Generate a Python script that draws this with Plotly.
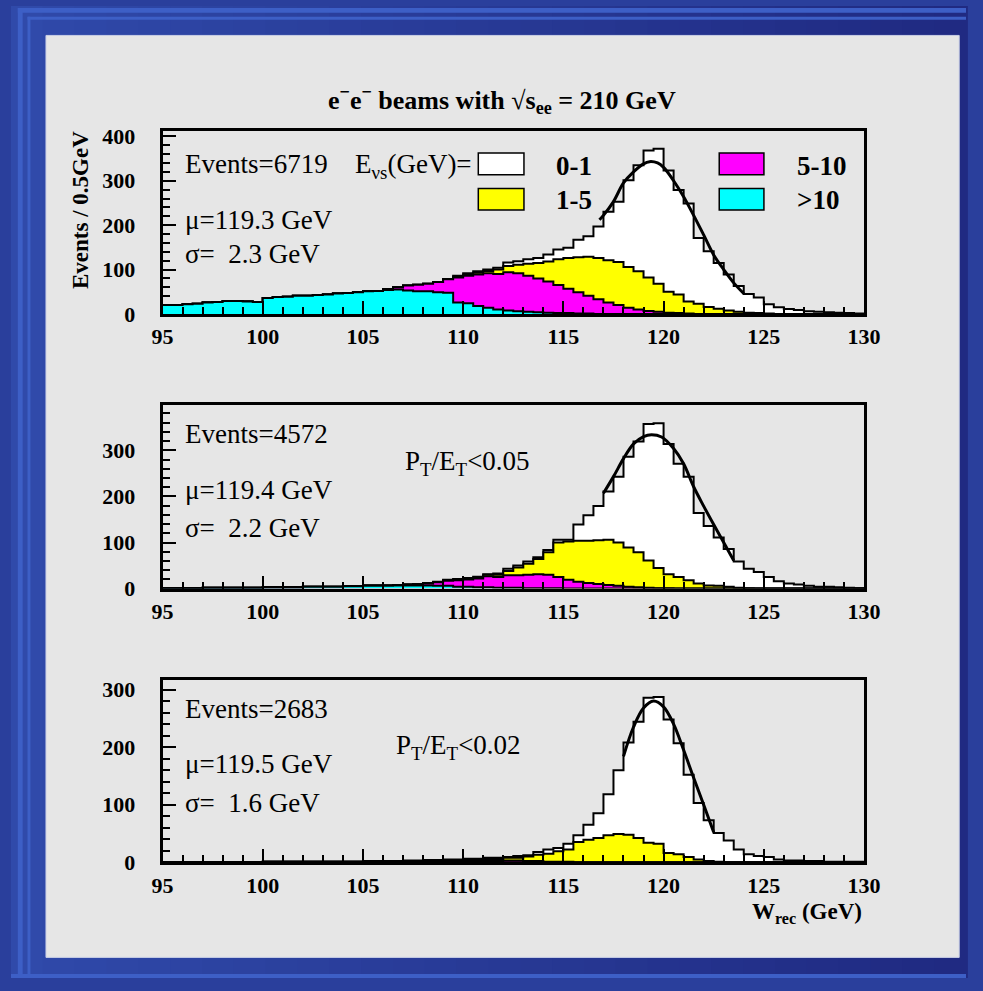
import plotly.graph_objects as go
import numpy as np

W, H = 983, 991
BIN_START, BIN_WIDTH, N_BINS = 95.0, 0.5, 70

# ---------------- data (events per 0.5 GeV bin, bins start at 95.0) ----------------
top_cyan = [20,20,22,23,26,27,29,29,28,27, 36,38,39,41,41,43,44,46,47,49,
            51,52,54,55,53,51,51,49,48,26, 24,18,14,10,8,6,5,4,3,2, 2,1,1] + [0]*27
top_magenta = [0]*22 + [2,5,11,15,17,23,30,56,62,71, 78,80,86,86,81,76,70,63,55,48,
                        40,33,26,20,14,10,7,5,3,2, 1] + [0]*17
top_yellow = [0]*28 + [1,2,3,4,5,10,14,19,27,35, 45,58,69,79,88,93,95,97,92,86,
                       75,63,47,42,27,23,16,12,8,5, 3,2,1] + [0]*9
top_white = [0]*29 + [2,3,3,3,4,8,8,10,11,16, 22,23,39,46,71,109,136,195,239,286,
                      304,273,235,221,148,125,103,81,58,42, 35,21,15,11,9,6,5,4,3,2, 1]

mid_cyan = [1,1,1,1,2,2,2,2,2,2, 3,3,3,3,4,4,4,4,5,5, 6,6,6,7,7,7,7,6,6,4,
            4,3,3,2,2,2,1,1,1,1] + [0]*30
mid_magenta = [0]*20 + [1,1,1,1,2,3,4,8,11,14, 16,19,24,23,27,27,29,30,29,24,
                        19,15,12,10,8,6,4,3,2,1, 1] + [0]*19
mid_yellow = [0]*28 + [1,2,2,2,3,5,9,17,24,33, 49,75,83,89,92,95,98,94,85,76,
                       59,44,30,25,18,11,7,6,4,2, 1] + [0]*11
mid_white = [0]*26 + [1,1,1,1,1,2,1,3,5,4, 5,4,5,6,4,35,55,74,105,143,
                      197,240,296,314,283,246,225,153,129,105, 82,57,42,36,25,16,11,9,6,4,
                      4,3,2,1]

bot_cyan = [0]*10 + [1]*24 + [0]*36
bot_magenta = [0]*24 + [1,1,1,1,2,2,2,2,3,3,3,3,2,2,1,1,1] + [0]*29
bot_yellow = [0]*26 + [1,1,1,1,2,2,3,3,5,5, 8,11,14,18,21,35,39,42,47,49,
                       48,42,34,32,16,14,9,5,2,1] + [0]*14
bot_white = [0]*20 + [1,1,1,1,1,1,1,1,1,1, 1,1,1,1,1,3,2,5,7,6,
                      10,12,26,43,71,111,160,202,252,255, 232,193,143,98,71,50,38,22,14,11,
                      9,5,3,3,2,2,1,1,1,1]

# fitted curves
top_fit_x = [116.8,117.0,117.5,118.0,118.5,119.0,119.3,119.7,120.0,120.5,121.0,121.5,122.0,122.5,123.0,123.5,124.0]
top_fit_y = [212,222,253,295,320,338,343,340,330,300,264,222,178,133,100,70,46]
mid_fit_x = [117.0,117.5,118.0,118.5,119.0,119.4,119.9,120.5,121.0,121.5,122.0,122.5,123.0,123.5]
mid_fit_y = [207,243,282,314,330,334,329,304,271,221,179,139,100,61]
bot_fit_x = [118.0,118.5,119.0,119.5,120.0,120.5,121.0,121.5,122.0,122.5]
bot_fit_y = [184,235,268,280,270,240,195,147,100,52]

panel_events = ["Events=6719", "Events=4572", "Events=2683"]
panel_mu = ["μ=119.3 GeV", "μ=119.4 GeV", "μ=119.5 GeV"]
panel_sigma = ["σ=  2.3 GeV", "σ=  2.2 GeV", "σ=  1.6 GeV"]
panel_cut = [None, "P<sub>T</sub>/E<sub>T</sub><0.05", "P<sub>T</sub>/E<sub>T</sub><0.02"]
legend_labels = ["0-1", "1-5", "5-10", ">10"]
x_ticks = [95, 100, 105, 110, 115, 120, 125, 130]
y_ticks = [[0, 100, 200, 300, 400], [0, 100, 200, 300], [0, 100, 200, 300]]
y_ranges = [413, 398, 317]

COL = {"white": "#ffffff", "yellow": "#ffff00", "magenta": "#ff00ff", "cyan": "#00ffff"}
GRAY = "#e6e6e6"
SERIF = "Liberation Serif"

def px(x):
    return x / W

def py(y):
    return 1 - y / H

panels = [
    (top_cyan, top_magenta, top_yellow, top_white, top_fit_x, top_fit_y),
    (mid_cyan, mid_magenta, mid_yellow, mid_white, mid_fit_x, mid_fit_y),
    (bot_cyan, bot_magenta, bot_yellow, bot_white, bot_fit_x, bot_fit_y),
]
# frame pixel boxes (top, bottom)
frames = [(127, 314), (407, 594), (687, 873)]
FX0, FX1 = 156, 878

edges = BIN_START + BIN_WIDTH * np.arange(N_BINS + 1)

fig = go.Figure()
for k, (c, m, yl, w, fx, fy) in enumerate(panels):
    xa = "x" if k == 0 else f"x{k+1}"
    ya = "y" if k == 0 else f"y{k+1}"
    c1 = np.array(c, float)
    c2 = c1 + np.array(m, float)
    c3 = c2 + np.array(yl, float)
    c4 = c3 + np.array(w, float)
    for cum, col in [(c4, "white"), (c3, "yellow"), (c2, "magenta"), (c1, "cyan")]:
        yy = list(cum) + [cum[-1]]
        fig.add_trace(go.Scatter(x=edges, y=yy, mode="lines", line_shape="hv",
                                 line=dict(color="black", width=2), fill="tozeroy",
                                 fillcolor=COL[col], xaxis=xa, yaxis=ya,
                                 showlegend=False, hoverinfo="skip"))
    fig.add_trace(go.Scatter(x=fx, y=fy, mode="lines", line_shape="spline",
                             line=dict(color="black", width=3), xaxis=xa, yaxis=ya,
                             showlegend=False, hoverinfo="skip"))

layout = dict(width=W, height=H, margin=dict(l=0, r=0, t=0, b=0),
              paper_bgcolor="#2a3f9c", plot_bgcolor=GRAY, showlegend=False)
tickfont = dict(family=SERIF, size=22, color="black", weight="bold")
for k, (ft, fb) in enumerate(frames):
    xk = "xaxis" if k == 0 else f"xaxis{k+1}"
    yk = "yaxis" if k == 0 else f"yaxis{k+1}"
    layout[xk] = dict(domain=[px(FX0), px(FX1)], range=[95, 130], anchor=("y" if k == 0 else f"y{k+1}"),
                      tickvals=x_ticks, ticks="inside", ticklen=13, tickwidth=2, tickcolor="black",
                      minor=dict(ticks="inside", dtick=1, ticklen=7, tickwidth=2, tickcolor="black"),
                      showline=True, linewidth=3, linecolor="black", mirror=True,
                      showgrid=False, zeroline=False, tickfont=tickfont, ticklabelstandoff=1)
    layout[yk] = dict(domain=[py(fb), py(ft)], range=[0, y_ranges[k]], anchor=("x" if k == 0 else f"x{k+1}"),
                      tickvals=y_ticks[k], ticks="inside", ticklen=13, tickwidth=2, tickcolor="black",
                      minor=dict(ticks="inside", dtick=20, ticklen=7, tickwidth=2, tickcolor="black"),
                      showline=True, linewidth=3, linecolor="black", mirror=True,
                      showgrid=False, zeroline=False, tickfont=tickfont, ticklabelstandoff=20)
fig.update_layout(**layout)

shapes = []
# blue background gradient
n = 30
c_left = np.array([0x30, 0x4a, 0xaa])
c_right = np.array([0x20, 0x2a, 0x82])
for i in range(n):
    t = i / (n - 1)
    cc = (c_left * (1 - t) + c_right * t).astype(int)
    shapes.append(dict(type="rect", xref="paper", yref="paper", x0=i / n, x1=(i + 1) / n + 0.002,
                       y0=0, y1=1, fillcolor=f"rgb({cc[0]},{cc[1]},{cc[2]})", line_width=0, layer="below"))
light = "#3d5fc6"
for (x0, y0, x1, y1) in [(7, 2, W, 7), (7, 2, 12, H), (17, 11, W, 14), (17, 11, 20, H), (0, 987, W, H)]:
    shapes.append(dict(type="rect", xref="paper", yref="paper", x0=px(x0), x1=px(x1), y0=py(y1), y1=py(y0),
                       fillcolor=light, line_width=0, layer="below"))
shapes.append(dict(type="rect", xref="paper", yref="paper", x0=px(36), x1=px(976), y0=py(970), y1=py(30),
                   fillcolor=GRAY, line=dict(color="#c9cfe6", width=1), layer="below"))
# legend swatches
for (x0, y0, x1, y1, col) in [(481, 150, 528, 172, "white"), (481, 186, 528, 208, "yellow"),
                              (729, 150, 775, 172, "magenta"), (729, 186, 775, 208, "cyan")]:
    shapes.append(dict(type="rect", xref="paper", yref="paper", x0=px(x0), x1=px(x1), y0=py(y1), y1=py(y0),
                       fillcolor=COL[col], line=dict(color="black", width=1.5)))
fig.update_layout(shapes=shapes)

ann = []
reg = dict(family=SERIF, size=27, color="black")
bold27 = dict(family=SERIF, size=27, color="black", weight="bold")

def add_text(text, x, y, font, xanchor="left", **kw):
    ann.append(dict(text=text, x=px(x), y=py(y), xref="paper", yref="paper", showarrow=False,
                    xanchor=xanchor, yanchor="middle", font=font, **kw))

rows = [(161, 218, 253), (436, 493, 532), (717, 773, 813)]
for k in range(3):
    add_text(panel_events[k], 177, rows[k][0], reg)
    add_text(panel_mu[k], 177, rows[k][1], reg)
    add_text(panel_sigma[k], 177, rows[k][2], reg)
add_text(panel_cut[1], 403, 466, reg)
add_text(panel_cut[2], 394, 755, reg)
add_text("E<sub>νs</sub>(GeV)=", 352, 163, reg)
add_text(legend_labels[0], 559, 163, bold27)
add_text(legend_labels[1], 559, 198, bold27)
add_text(legend_labels[2], 807, 163, bold27)
add_text(legend_labels[3], 807, 198, bold27)
add_text("e<sup>−</sup>e<sup>−</sup> beams with √s<sub>ee</sub> = 210 GeV", 505, 96,
         dict(family=SERIF, size=26, color="black", weight="bold"), xanchor="center")
add_text("Events / 0.5GeV", 71, 208, dict(family=SERIF, size=23, color="black", weight="bold"),
         xanchor="center", textangle=-90)
add_text("W<sub>rec</sub> (GeV)", 878, 925, dict(family=SERIF, size=23, color="black", weight="bold"),
         xanchor="right")
fig.update_layout(annotations=ann)

fig.write_html("out.html", config={"displayModeBar": False},
               post_script="document.body.style.margin='0px';document.body.style.overflow='hidden';")
